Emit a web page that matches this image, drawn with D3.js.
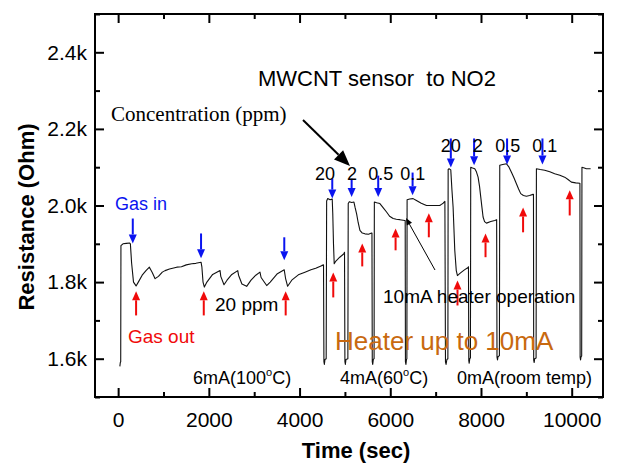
<!DOCTYPE html>
<html>
<head>
<meta charset="utf-8">
<script src="https://cdn.jsdelivr.net/npm/d3@7"></script>
<style>
  body { margin: 0; background: #fff; }
  svg { display: block; font-family: "Liberation Sans", Arial, sans-serif; }
</style>
</head>
<body>
<svg class="js-chart" width="631" height="465"></svg>
<script>
// resistance trace (time in sec, resistance in ohm)
var times = [38, 48, 57, 62, 107, 181, 255, 270, 297, 339, 396, 445, 530, 614, 689, 752, 815, 889, 974, 1035,
  1132, 1293, 1396, 1502, 1623, 1714, 1828, 1846, 1872, 1901, 1957, 2084, 2247, 2263, 2334, 2401, 2507, 2637, 2655, 2729,
  2834, 2930, 3035, 3127, 3152, 3275, 3353, 3511, 3662, 3691, 3737, 3828, 3987, 4119, 4251, 4357, 4486, 4528,
  4537, 4547, 4560, 4587, 4597, 4621, 4674, 4720, 4732, 4748, 4764, 4801, 4886, 4978, 4991,
  5000, 5010, 5023, 5065, 5073, 5097, 5150, 5199, 5224, 5258, 5293, 5331, 5383, 5441, 5520, 5588, 5596,
  5603, 5613, 5626, 5643, 5649, 5700, 5771, 5837, 5918, 5985, 6063, 6133, 6210, 6320, 6329,
  6334, 6345, 6357, 6366, 6371, 6429, 6503, 6577, 6683, 6798, 6947, 7091, 7127, 7166, 7204,
  7217, 7230, 7248, 7270, 7276, 7296, 7334, 7360, 7385, 7422, 7455, 7481, 7529, 7570, 7635, 7715, 7724,
  7731, 7740, 7753, 7767, 7774, 7814, 7863, 7899, 7936, 7968, 7995, 8021, 8046, 8079, 8121, 8216, 8303, 8345,
  8353, 8364, 8375, 8406, 8414, 8480, 8561, 8618, 8671, 8724, 8781, 8829, 8876, 8935, 9002, 9072, 9146, 9157,
  9162, 9173, 9184, 9215, 9222, 9305, 9405, 9517, 9625, 9739, 9845, 9919, 9993, 10088, 10175, 10181,
  10186, 10195, 10206, 10220, 10226, 10278, 10323, 10417];
var resistance = [1580, 1590, 1592, 1895, 1900, 1901, 1902, 1900, 1850, 1800, 1790, 1800, 1818, 1830, 1839, 1825, 1809, 1815, 1826, 1830,
  1834, 1839, 1840, 1845, 1848, 1849, 1852, 1840, 1800, 1787, 1800, 1820, 1830, 1815, 1793, 1805, 1820, 1830, 1818, 1795,
  1789, 1805, 1818, 1826, 1812, 1791, 1800, 1822, 1832, 1810, 1789, 1805, 1820, 1826, 1832, 1836, 1843, 1845,
  1592, 1585, 1598, 1600, 2012, 2018, 2015, 2017, 1980, 1900, 1848, 1855, 1865, 1874, 1878,
  1592, 1585, 1598, 1600, 2005, 2010, 2008, 2009, 1995, 1978, 1955, 1935, 1928, 1926, 1925, 1928, 1928,
  1592, 1585, 1598, 1600, 2009, 2007, 2005, 1995, 1983, 1972, 1966, 1964, 1963, 1961, 1961,
  1592, 1585, 1598, 1600, 2015, 2017, 2018, 2013, 2006, 2000, 2000, 2000, 2003, 2006, 2011,
  1592, 1585, 1598, 1600, 2094, 2096, 2093, 2040, 1996, 1883, 1830, 1817, 1822, 1826, 1832, 1838, 1840,
  1595, 1588, 1600, 1602, 2100, 2098, 2096, 2088, 2074, 2050, 2022, 1995, 1970, 1958, 1954, 1958, 1961, 1963,
  1604, 1597, 1605, 1608, 2105, 2107, 2109, 2100, 2087, 2073, 2057, 2043, 2031, 2026, 2024, 2026, 2029, 2029,
  1596, 1590, 1600, 1602, 2096, 2094, 2092, 2088, 2083, 2079, 2074, 2068, 2061, 2059, 2058, 2058,
  1604, 1597, 1605, 1607, 2100, 2098, 2096, 2096];

// gas in (blue, pointing down) and gas out (red, pointing up): time, tail R, tip R
var gasInTimes = [323, 1828, 3663, 4721, 5148, 5734, 6492, 7335, 7848, 8575, 9355];
var gasInTails = [1966, 1927, 1917, 2070, 2070, 2078, 2086, 2175, 2175, 2175, 2175];
var gasInTips = [1901, 1862, 1857, 2018, 2022, 2022, 2027, 2099, 2105, 2107, 2107];
var gasOutTimes = [396, 1888, 3694, 4743, 5382, 6117, 6850, 7482, 8100, 8928, 9956];
var gasOutTails = [1713, 1713, 1713, 1760, 1841, 1883, 1917, 1739, 1865, 1930, 1974];
var gasOutTips = [1776, 1776, 1776, 1825, 1901, 1940, 1980, 1804, 1927, 1995, 2040];

// concentration labels (ppm) over the two sweeps
var concLabels = ['20', '2', '0.5', '0.1'];
var concTimesA = [4560, 5154, 5793, 6498];
var concTimesB = [7335, 7930, 8590, 9405];

var xTicks = [0, 2000, 4000, 6000, 8000, 10000];
var xMinor = [1000, 3000, 5000, 7000, 9000];
var yTicks = [1600, 1800, 2000, 2200, 2400];
var yMinor = [1500, 1700, 1900, 2100, 2300, 2500];

var svg = d3.select('.js-chart'),
    L = 95, R = 603, T = 14, B = 397;

var x = d3.scaleLinear().domain([-510, 10690]).range([L, R]);
var y = d3.scaleLinear().domain([1500, 2500]).range([B, T]);

function styleAxis(g) {
  g.select('.domain').remove();
  g.selectAll('line').attr('stroke', '#000').attr('stroke-width', 2);
  g.selectAll('text').attr('fill', '#000').style('font-size', '21px').style('font-family', '"Liberation Sans", Arial, sans-serif');
}

// axes, ticks pointing inward
svg.append('g').attr('transform', 'translate(0,' + B + ')')
  .call(d3.axisBottom(x).tickValues(xTicks).tickSize(-9).tickPadding(15).tickFormat(d3.format('d')))
  .call(styleAxis);
svg.append('g').attr('transform', 'translate(0,' + B + ')')
  .call(d3.axisBottom(x).tickValues(xMinor).tickSize(-5).tickFormat(''))
  .call(styleAxis);
svg.append('g').attr('transform', 'translate(0,' + T + ')')
  .call(d3.axisTop(x).tickValues(xTicks).tickSize(-9).tickFormat(''))
  .call(styleAxis);
svg.append('g').attr('transform', 'translate(0,' + T + ')')
  .call(d3.axisTop(x).tickValues(xMinor).tickSize(-5).tickFormat(''))
  .call(styleAxis);
svg.append('g').attr('transform', 'translate(' + L + ',0)')
  .call(d3.axisLeft(y).tickValues(yTicks).tickSize(-9).tickPadding(8).tickFormat(function(d) { return (d / 1000).toFixed(1) + 'k'; }))
  .call(styleAxis);
svg.append('g').attr('transform', 'translate(' + L + ',0)')
  .call(d3.axisLeft(y).tickValues(yMinor).tickSize(-5).tickFormat(''))
  .call(styleAxis);
svg.append('g').attr('transform', 'translate(' + R + ',0)')
  .call(d3.axisRight(y).tickValues(yTicks).tickSize(-9).tickFormat(''))
  .call(styleAxis);
svg.append('g').attr('transform', 'translate(' + R + ',0)')
  .call(d3.axisRight(y).tickValues(yMinor).tickSize(-5).tickFormat(''))
  .call(styleAxis);

svg.append('rect')
  .attr('x', L).attr('y', T).attr('width', R - L).attr('height', B - T)
  .attr('fill', 'none').attr('stroke', '#000').attr('stroke-width', 2);

// axis titles
svg.append('text').attr('x', 356).attr('y', 458).attr('text-anchor', 'middle')
  .style('font-size', '22px').style('font-weight', 'bold').text('Time (sec)');
svg.append('text').attr('transform', 'translate(34,217) rotate(-90)').attr('text-anchor', 'middle')
  .style('font-size', '22px').style('font-weight', 'bold').text('Resistance (Ohm)');

// trace
var line = d3.line()
  .x(function(d, i) { return x(times[i]); })
  .y(function(d) { return y(d); });
svg.append('path').datum(resistance)
  .attr('d', line)
  .attr('fill', 'none').attr('stroke', '#111').attr('stroke-width', 1.1).attr('stroke-linejoin', 'round');

// small arrows
function arrow(x0, y0, x1, y1, color, w, headLen, headW) {
  var ang = Math.atan2(y1 - y0, x1 - x0),
      bx = x1 - headLen * Math.cos(ang), by = y1 - headLen * Math.sin(ang),
      nx = -Math.sin(ang) * headW / 2, ny = Math.cos(ang) * headW / 2;
  svg.append('line').attr('x1', x0).attr('y1', y0).attr('x2', bx).attr('y2', by)
    .attr('stroke', color).attr('stroke-width', w);
  svg.append('path')
    .attr('d', 'M' + x1 + ',' + y1 + 'L' + (bx + nx) + ',' + (by + ny) + 'L' + (bx - nx) + ',' + (by - ny) + 'Z')
    .attr('fill', color);
}
gasInTimes.forEach(function(t, i) {
  arrow(x(t), y(gasInTails[i]), x(t), y(gasInTips[i]), '#0a14f0', 2, 9, 8);
});
gasOutTimes.forEach(function(t, i) {
  arrow(x(t), y(gasOutTails[i]), x(t), y(gasOutTips[i]), '#f00a0a', 2, 9, 8);
});

// concentration labels
function concText(ts, baseline) {
  svg.selectAll(null).data(concLabels).enter().append('text')
    .attr('x', function(d, i) { return x(ts[i]); })
    .attr('y', baseline).attr('text-anchor', 'middle')
    .style('font-size', '18px').text(function(d) { return d; });
}
concText(concTimesA, 180);
concText(concTimesB, 152);

// annotations
svg.append('text').attr('x', 258).attr('y', 86).style('font-size', '22px').style('white-space', 'pre')
  .text('MWCNT sensor  to NO2');
svg.append('text').attr('x', 111).attr('y', 121).style('font-family', '"Liberation Serif", "Times New Roman", serif')
  .style('font-size', '21px').text('Concentration (ppm)');
arrow(303, 120, 350, 166, '#000', 2, 16, 13);

svg.append('text').attr('x', 115).attr('y', 210).attr('fill', '#0a14f0').style('font-size', '18px').text('Gas in');
svg.append('text').attr('x', 128).attr('y', 343).attr('fill', '#f00a0a').style('font-size', '19px').text('Gas out');
svg.append('text').attr('x', 215).attr('y', 311).style('font-size', '19px').text('20 ppm');

svg.append('text').attr('x', 383).attr('y', 303).style('font-size', '19px').text('10mA heater operation');
arrow(435, 270, 406, 218, '#000', 1, 7, 6);

svg.append('text').attr('x', 335).attr('y', 350).attr('fill', '#c8690f').style('font-size', '26px').text('Heater up to 10mA');

function degText(xp, pre, post) {
  var t = svg.append('text').attr('x', xp).attr('y', 384).style('font-size', '18px');
  t.append('tspan').text(pre);
  t.append('tspan').attr('dy', -8).style('font-size', '11px').text('o');
  t.append('tspan').attr('dy', 8).text(post);
}
degText(193, '6mA(100', 'C)');
degText(340, '4mA(60', 'C)');
svg.append('text').attr('x', 457).attr('y', 384).style('font-size', '18px').text('0mA(room temp)');
</script>
</body>
</html>
